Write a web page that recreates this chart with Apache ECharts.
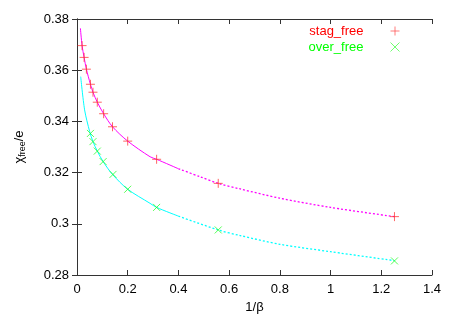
<!DOCTYPE html>
<html>
<head>
<meta charset="utf-8">
<script src="https://cdn.jsdelivr.net/npm/echarts@6/dist/echarts.min.js"></script>
<style>
html,body{margin:0;padding:0;background:#fff;}
#chart{width:458px;height:321px;}
</style>
</head>
<body>
<div id="chart"></div>
<script>
// measured points
var stagX = [0.02, 0.028, 0.037, 0.053, 0.063, 0.08, 0.105, 0.14, 0.2, 0.314, 0.557, 1.252];
var stagY = [0.3696, 0.3650, 0.3604, 0.3545, 0.3514, 0.3475, 0.3430, 0.3379, 0.3323, 0.3252, 0.3158, 0.3028];
var overX = [0.053, 0.063, 0.08, 0.103, 0.142, 0.2, 0.314, 0.557, 1.252];
var overY = [0.3353, 0.3321, 0.3284, 0.3243, 0.3193, 0.3135, 0.3064, 0.2976, 0.2855];

// fit curves (solid part, dotted part)
var stagFitX = [0.0134, 0.02, 0.028, 0.037, 0.053, 0.063, 0.08, 0.105, 0.14, 0.2, 0.288, 0.314, 0.4];
var stagFitY = [0.3764, 0.3696, 0.3650, 0.3604, 0.3545, 0.3514, 0.3475, 0.3430, 0.3379, 0.3323, 0.3262, 0.3252, 0.3215];
var stagDotX = [0.4, 0.485, 0.557, 0.644, 0.8, 1.0, 1.252];
var stagDotY = [0.3215, 0.3184, 0.3158, 0.3136, 0.3100, 0.3064, 0.3028];
var overFitX = [0.0146, 0.03, 0.05, 0.063, 0.08, 0.103, 0.14, 0.2, 0.288, 0.314, 0.4];
var overFitY = [0.3575, 0.3445, 0.3360, 0.3321, 0.3284, 0.3243, 0.3193, 0.3135, 0.3080, 0.3064, 0.3030];
var overDotX = [0.4, 0.557, 0.644, 0.8, 1.0, 1.252];
var overDotY = [0.3030, 0.2976, 0.2954, 0.2920, 0.2891, 0.2856];

var xTicks = [0, 0.2, 0.4, 0.6, 0.8, 1, 1.2, 1.4];
var yTicks = [0.28, 0.3, 0.32, 0.34, 0.36, 0.38];

function pairs(xs, ys) {
    var out = [];
    for (var i = 0; i < xs.length; i++) out.push([xs[i], ys[i]]);
    return out;
}

var plusIcon = 'path://M0,5L10,5M5,0L5,10';
var crossIcon = 'path://M0,0L10,10M10,0L0,10';
var font = 'Liberation Sans, Arial, sans-serif';
var axisCol = '#333';

var option = {
    animation: false,
    grid: {left: 77, right: 26, top: 19, bottom: 46},
    legend: {
        right: 51,
        top: 19,
        orient: 'vertical',
        align: 'right',
        itemGap: 2,
        itemWidth: 9,
        itemHeight: 9,
        textStyle: {fontFamily: font, fontSize: 13, padding: [0, 22, 0, 0]},
        data: [
            {name: 'stag_free', icon: plusIcon, textStyle: {color: '#ff0000'},
             itemStyle: {color: 'none', borderColor: '#ff5050', borderWidth: 1}},
            {name: 'over_free', icon: crossIcon, textStyle: {color: '#00ff00'},
             itemStyle: {color: 'none', borderColor: '#40ff40', borderWidth: 1}}
        ]
    },
    xAxis: [{
        type: 'value', min: 0, max: 1.4, interval: 0.2,
        name: '1/\u03b2', nameLocation: 'middle', nameGap: 26,
        nameTextStyle: {fontFamily: font, fontSize: 13, color: '#000'},
        axisLine: {lineStyle: {color: axisCol}},
        axisTick: {inside: true, length: 5, lineStyle: {color: axisCol}},
        axisLabel: {fontFamily: font, fontSize: 13, color: '#000', margin: 8,
            formatter: function (v) { return String(+v.toFixed(1)); }},
        splitLine: {show: false}
    }, {
        type: 'value', position: 'top', min: 0, max: 1.4, interval: 0.2,
        axisLine: {show: true, lineStyle: {color: axisCol}},
        axisTick: {inside: true, length: 5, lineStyle: {color: axisCol}},
        axisLabel: {show: false}, splitLine: {show: false}
    }],
    yAxis: [{
        type: 'value', min: 0.28, max: 0.38, interval: 0.02,
        name: '{a|\u03c7}{s|free}{a|/e}', nameLocation: 'middle', nameGap: 50, nameRotate: 90,
        nameTextStyle: {
            fontFamily: font, color: '#000',
            rich: {
                a: {fontFamily: font, fontSize: 13, color: '#000'},
                s: {fontFamily: font, fontSize: 9, color: '#000', verticalAlign: 'bottom', padding: [6, 0, 0, 0]}
            }
        },
        axisLine: {lineStyle: {color: axisCol}},
        axisTick: {inside: true, length: 5, lineStyle: {color: axisCol}},
        axisLabel: {fontFamily: font, fontSize: 13, color: '#000', margin: 8,
            formatter: function (v) { return String(+v.toFixed(2)); }},
        splitLine: {show: false}
    }, {
        type: 'value', position: 'right', min: 0.28, max: 0.38, interval: 0.02,
        axisLine: {show: true, lineStyle: {color: axisCol}},
        axisTick: {inside: true, length: 5, lineStyle: {color: axisCol}},
        axisLabel: {show: false}, splitLine: {show: false}
    }],
    series: [
        {type: 'line', data: pairs(stagFitX, stagFitY), smooth: 0.3, showSymbol: false,
         lineStyle: {color: '#ff00ff', width: 1}, silent: true, z: 1},
        {type: 'line', data: pairs(stagDotX, stagDotY), smooth: 0.3, showSymbol: false,
         lineStyle: {color: '#ff00ff', width: 1.3, type: [2, 2]}, silent: true, z: 1},
        {type: 'line', data: pairs(overFitX, overFitY), smooth: 0.3, showSymbol: false,
         lineStyle: {color: '#00ffff', width: 1}, silent: true, z: 1},
        {type: 'line', data: pairs(overDotX, overDotY), smooth: 0.3, showSymbol: false,
         lineStyle: {color: '#00ffff', width: 1.3, type: [2, 2]}, silent: true, z: 1},
        {name: 'stag_free', type: 'scatter', data: pairs(stagX, stagY), symbol: plusIcon, symbolSize: 9,
         itemStyle: {color: 'none', borderColor: '#ff3030', borderWidth: 1, opacity: 0.75}, z: 3},
        {name: 'over_free', type: 'scatter', data: pairs(overX, overY), symbol: crossIcon, symbolSize: 7,
         itemStyle: {color: 'none', borderColor: '#20ff20', borderWidth: 1, opacity: 0.75}, z: 3}
    ]
};

var chart = echarts.init(document.getElementById('chart'));
chart.setOption(option);
window.addEventListener('resize', function () {
    chart.resize();
});
</script>
</body>
</html>
